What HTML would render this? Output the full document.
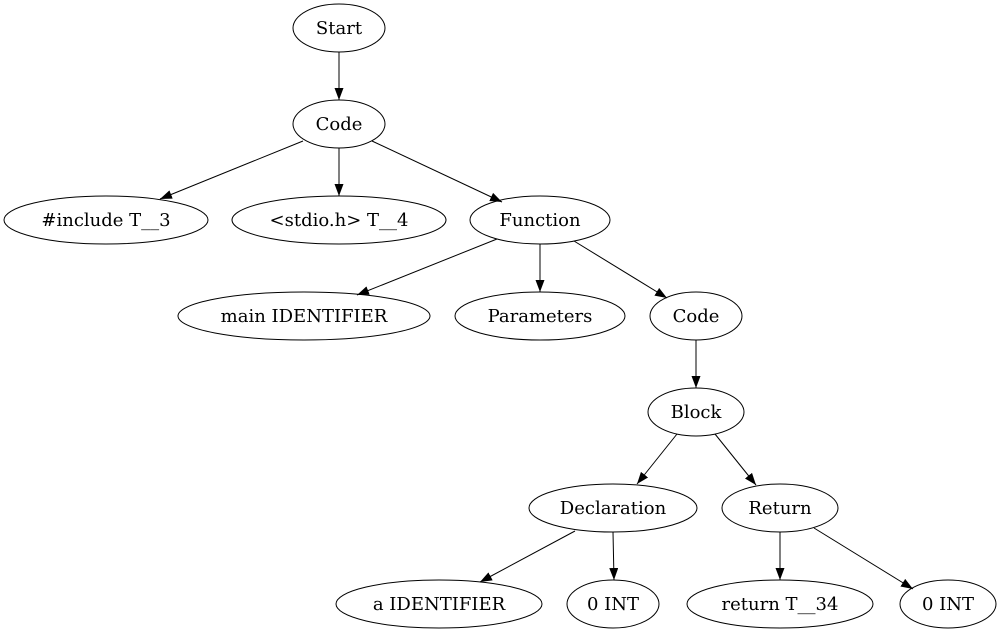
<!DOCTYPE html>
<html><head><meta charset="utf-8"><style>html,body{margin:0;padding:0;background:#fff}svg{display:block}</style></head>
<body>
<svg width="1000" height="635" viewBox="0 0 1000 635" xmlns="http://www.w3.org/2000/svg">
<defs><marker id="a" markerUnits="userSpaceOnUse" markerWidth="14" markerHeight="12" refX="12" refY="4.5" orient="auto"><polygon points="0,0 12,4.5 0,9" fill="#000"/></marker></defs>
<g fill="none" stroke="#000" stroke-width="1">
<ellipse cx="339" cy="28" rx="46" ry="24"/>
<ellipse cx="339" cy="124" rx="46" ry="24"/>
<ellipse cx="106" cy="220" rx="102" ry="24"/>
<ellipse cx="339" cy="220" rx="107" ry="24"/>
<ellipse cx="540" cy="220" rx="70" ry="24"/>
<ellipse cx="304" cy="316" rx="126" ry="24"/>
<ellipse cx="540" cy="316" rx="85" ry="24"/>
<ellipse cx="696" cy="316" rx="46" ry="24"/>
<ellipse cx="696" cy="412" rx="48" ry="24"/>
<ellipse cx="613" cy="508" rx="84" ry="24"/>
<ellipse cx="780" cy="508" rx="58" ry="24"/>
<ellipse cx="439" cy="604" rx="103" ry="24"/>
<ellipse cx="613" cy="604" rx="46" ry="24"/>
<ellipse cx="780" cy="604" rx="93" ry="24"/>
<ellipse cx="948" cy="604" rx="48" ry="24"/>
<g marker-end="url(#a)">
<line x1="339" y1="52" x2="339" y2="100"/>
<line x1="303" y1="141" x2="160" y2="199"/>
<line x1="339" y1="148" x2="339" y2="196"/>
<line x1="372" y1="141" x2="502" y2="202"/>
<line x1="497" y1="239" x2="357" y2="295"/>
<line x1="540" y1="244" x2="540" y2="292"/>
<line x1="574" y1="241" x2="667" y2="298"/>
<line x1="696" y1="340" x2="696" y2="388"/>
<line x1="677" y1="434" x2="637" y2="484"/>
<line x1="715" y1="434" x2="756" y2="485"/>
<line x1="575" y1="531" x2="480" y2="582"/>
<line x1="613" y1="532" x2="614" y2="580"/>
<line x1="780" y1="532" x2="780" y2="580"/>
<line x1="814" y1="528" x2="913" y2="589"/>
</g></g>
<g font-family="DejaVu Serif, serif" font-size="18" text-anchor="middle" fill="#000">
<text x="339" y="34">Start</text>
<text x="339" y="130">Code</text>
<text x="106" y="226">#include T__3</text>
<text x="339" y="226">&lt;stdio.h&gt; T__4</text>
<text x="540" y="226">Function</text>
<text x="304" y="322">main IDENTIFIER</text>
<text x="540" y="322">Parameters</text>
<text x="696" y="322">Code</text>
<text x="696" y="418">Block</text>
<text x="613" y="514">Declaration</text>
<text x="780" y="514">Return</text>
<text x="439" y="610">a IDENTIFIER</text>
<text x="613" y="610">0 INT</text>
<text x="780" y="610">return T__34</text>
<text x="948" y="610">0 INT</text>
</g>
</svg>
</body></html>
